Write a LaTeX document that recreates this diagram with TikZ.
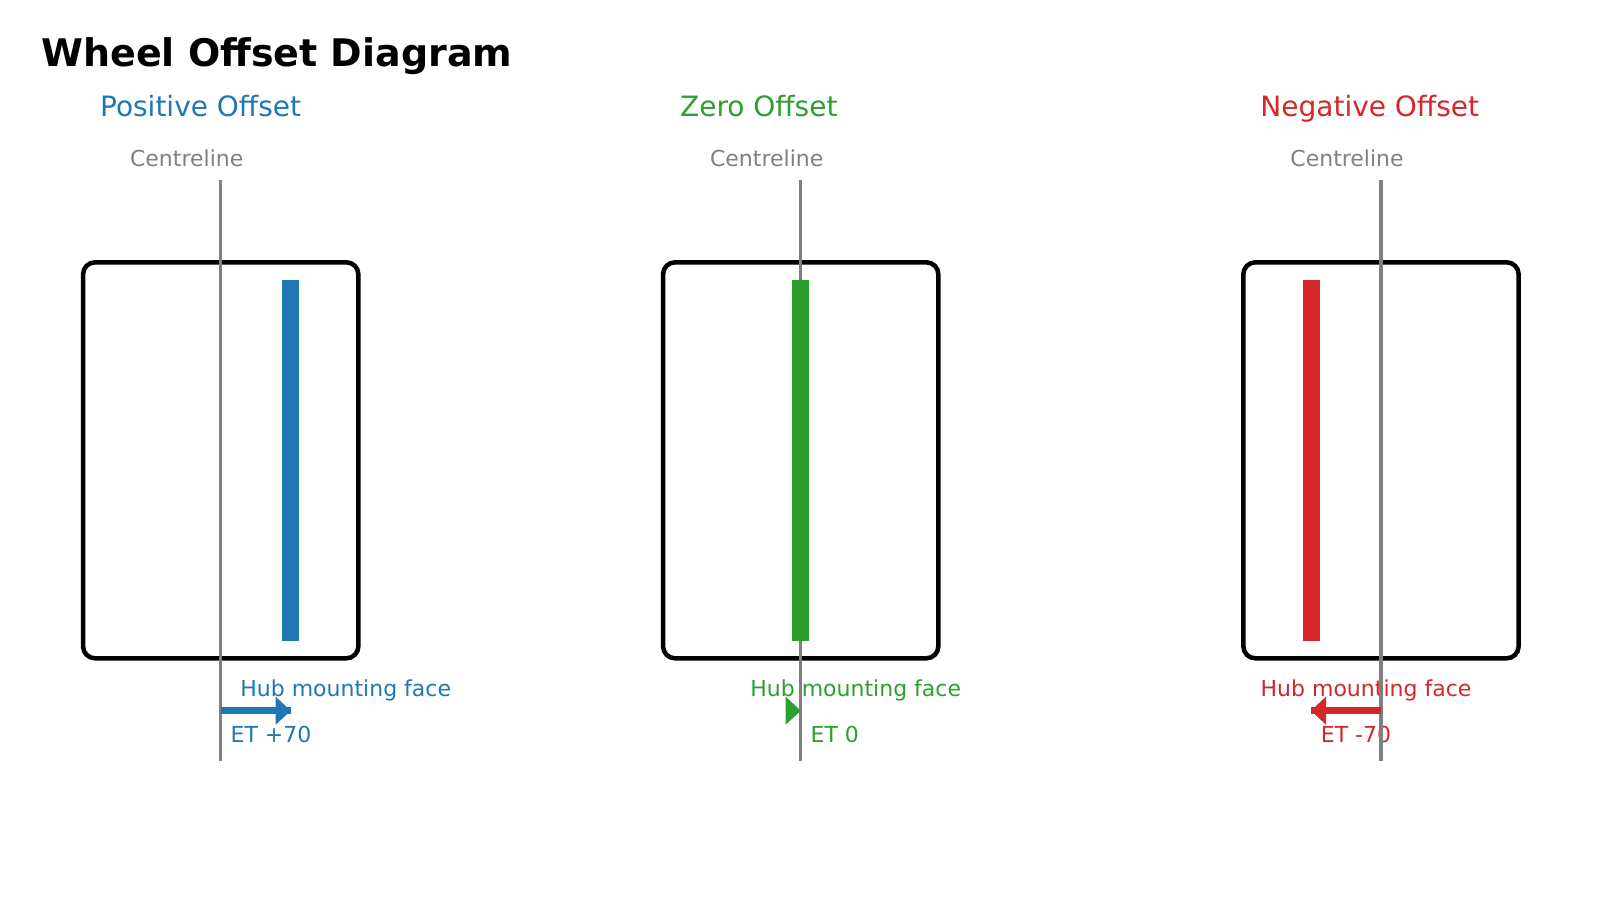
\documentclass[tikz,border=0pt]{standalone}
\usepackage{fontspec}
\setmainfont{DejaVu Sans}
\definecolor{tabblue}{HTML}{1F77B4}
\definecolor{tabgreen}{HTML}{2CA02C}
\definecolor{tabred}{HTML}{D62728}
\definecolor{clgray}{HTML}{808080}
\begin{document}
\begin{tikzpicture}[x=0.5pt,y=-0.5pt,
  titletext/.style={anchor=base west,inner sep=0pt,font=\fontsize{19}{23}\selectfont\bfseries},
  subtext/.style={anchor=base west,inner sep=0pt,font=\fontsize{14}{16}\selectfont},
  smalltext/.style={inner sep=0pt,font=\fontsize{11}{13}\selectfont},
  wheelbox/.style={draw=black,line width=2.25pt,rounded corners=6pt,minimum width=137.65pt,minimum height=198pt,inner sep=0pt},
  centreline/.style={draw=clgray,line width=1.75pt},
  hubbar/.style={inner sep=0pt,minimum width=8.5pt,minimum height=180.35pt},
  shaft/.style={line width=3.25pt},
]
\useasboundingbox[fill=white] (0,0) rectangle (1600,900);
\node[titletext] (maintitle) at (41,66.7) {Wheel Offset Diagram};
\foreach \cx/\col/\ttl/\off/\et/\i in {220.7/tabblue/Positive Offset/70/ET +70/1, 800.7/tabgreen/Zero Offset/0/ET 0/2, 1381/tabred/Negative Offset/-70/ET -70/3}{
  \pgfmathsetmacro\tipx{\cx+\off}
  \pgfmathsetmacro\sg{ifthenelse(\off<0,-1,1)}
  \pgfmathsetmacro\basex{\tipx-15*\sg}
  \pgfmathsetmacro\etx{min(\cx,\tipx)+9.5}
  \pgfmathsetmacro\hubx{\tipx+55}
  \node[wheelbox] (box\i) at (\cx,460.3) {};
  \node[subtext,text=\col] (title\i) at (\cx-121,116) {\ttl};
  \node[smalltext,anchor=base west,text=clgray] (cllabel\i) at (\cx-91,166) {Centreline};
  \node[smalltext,anchor=base,text=\col] (hub\i) at (\hubx,696) {Hub mounting face};
  \node[smalltext,anchor=base west,text=\col] (et\i) at (\etx,742.7) {\et};
  \coordinate (cltop\i) at (\cx,180);
  \coordinate (clbot\i) at (\cx,760.7);
  \draw[centreline] (cltop\i) -- (clbot\i);
  \node[hubbar,fill=\col] (bar\i) at (\tipx,460.35) {};
  \coordinate (astart\i) at (\cx,710.7);
  \coordinate (atip\i) at (\tipx,710.7);
  \coordinate (abase\i) at (\basex,710.7);
  \draw[shaft,draw=\col] (astart\i) -- (atip\i);
  \fill[\col] (atip\i) -- ([yshift=7pt]abase\i) -- ([yshift=-7pt]abase\i) -- cycle;
}
\end{tikzpicture}
\end{document}
